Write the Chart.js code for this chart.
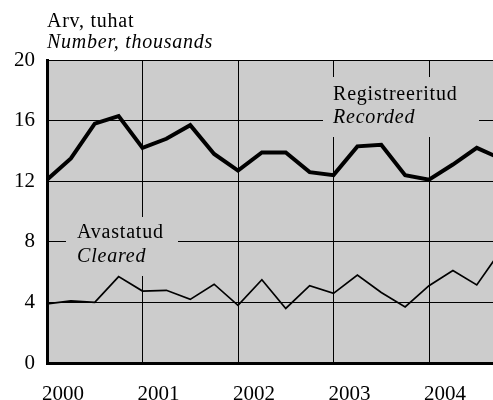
<!DOCTYPE html>
<html lang="et">
<head>
  <meta charset="UTF-8">
  <title>Arv, tuhat</title>
  <script src="https://cdn.jsdelivr.net/npm/chart.js"></script>
  <style>
    body { margin: 0; background: #fff; }
    #wrap { width: 493px; height: 400px; }
  </style>
</head>
<body>
  <div id="wrap"><canvas id="chart" width="493" height="400"></canvas></div>

  <script>
    // quarterly values, 2000 Q1 .. 2004 Q4 (thousands)
    const quarters = [
      '2000 I', '2000 II', '2000 III', '2000 IV',
      '2001 I', '2001 II', '2001 III', '2001 IV',
      '2002 I', '2002 II', '2002 III', '2002 IV',
      '2003 I', '2003 II', '2003 III', '2003 IV',
      '2004 I', '2004 II', '2004 III', '2004 IV'
    ];
    const recorded = [12.1, 13.5, 15.8, 16.3, 14.2, 14.8, 15.7, 13.8, 12.7, 13.9,
                      13.9, 12.6, 12.4, 14.3, 14.4, 12.4, 12.1, 13.1, 14.2, 13.5];
    const cleared  = [3.9, 4.1, 4.0, 5.7, 4.75, 4.8, 4.2, 5.2, 3.8, 5.5,
                      3.6, 5.1, 4.6, 5.8, 4.65, 3.7, 5.1, 6.1, 5.15, 7.4];
    const years = ['2000', '2001', '2002', '2003', '2004'];
    const yTicks = [0, 4, 8, 12, 16, 20];

    const serif = '"Liberation Serif", "DejaVu Serif", serif';
    const plotGray = '#cccccc';

    const toPoints = arr => arr.map((v, i) => ({ x: i, y: v }));

    // gray plot area, title and the two in-plot labels
    const decor = {
      id: 'decor',
      beforeDraw(chart) {
        const { ctx, chartArea: a } = chart;
        ctx.save();
        ctx.fillStyle = plotGray;
        ctx.fillRect(a.left, a.top, a.right - a.left, a.bottom - a.top);
        ctx.fillStyle = '#000';
        ctx.textBaseline = 'alphabetic';
        ctx.letterSpacing = '0.75px';
        ctx.font = '20px ' + serif;
        ctx.fillText('Arv, tuhat', 47, 27);
        ctx.font = 'italic 20px ' + serif;
        ctx.fillText('Number, thousands', 47, 48);
        ctx.restore();
      },
      beforeDatasetsDraw(chart) {
        const { ctx } = chart;
        const boxes = [
          { x: 323, y: 77, w: 156, h: 60, tx: 333, l1: 'Registreeritud', l2: 'Recorded', b1: 100, b2: 123 },
          { x: 66, y: 217, w: 112, h: 59, tx: 77, l1: 'Avastatud', l2: 'Cleared', b1: 238, b2: 262 }
        ];
        ctx.save();
        ctx.letterSpacing = '0.8px';
        boxes.forEach(b => {
          ctx.fillStyle = plotGray;
          ctx.fillRect(b.x, b.y, b.w, b.h);
          ctx.fillStyle = '#000';
          ctx.font = '20px ' + serif;
          ctx.fillText(b.l1, b.tx, b.b1);
          ctx.font = 'italic 20px ' + serif;
          ctx.fillText(b.l2, b.tx, b.b2);
        });
        ctx.restore();
      }
    };

    new Chart(document.getElementById('chart'), {
      type: 'line',
      data: {
        datasets: [
          {
            label: 'Registreeritud / Recorded',
            data: toPoints(recorded),
            borderColor: '#000',
            borderWidth: 4,
            pointRadius: 0,
            tension: 0
          },
          {
            label: 'Avastatud / Cleared',
            data: toPoints(cleared),
            borderColor: '#000',
            borderWidth: 1.7,
            pointRadius: 0,
            tension: 0
          }
        ]
      },
      options: {
        responsive: false,
        animation: false,
        layout: { padding: { top: 60, left: 0, right: 0, bottom: 0 } },
        plugins: {
          legend: { display: false },
          tooltip: { enabled: false }
        },
        scales: {
          x: {
            type: 'linear',
            min: 0,
            max: 18.68,
            afterFit(s) { s.height = 37; },
            afterBuildTicks(s) {
              s.ticks = years.map((_, i) => ({ value: i * 4 }));
            },
            ticks: {
              color: '#000',
              font: { family: serif, size: 21 },
              padding: 19,
              labelOffset: 16,
              maxRotation: 0,
              autoSkip: false,
              callback: v => years[v / 4]
            },
            grid: { color: '#000', lineWidth: 1, drawTicks: false },
            border: { color: '#000', width: 3 }
          },
          y: {
            min: 0,
            max: 20,
            afterFit(s) { s.width = 47; },
            afterBuildTicks(s) {
              s.ticks = yTicks.map(v => ({ value: v }));
            },
            ticks: {
              color: '#000',
              font: { family: serif, size: 21 },
              padding: 12
            },
            grid: { color: '#000', lineWidth: 1, drawTicks: false },
            border: { color: '#000', width: 3 }
          }
        }
      },
      plugins: [decor]
    });
  </script>
</body>
</html>
